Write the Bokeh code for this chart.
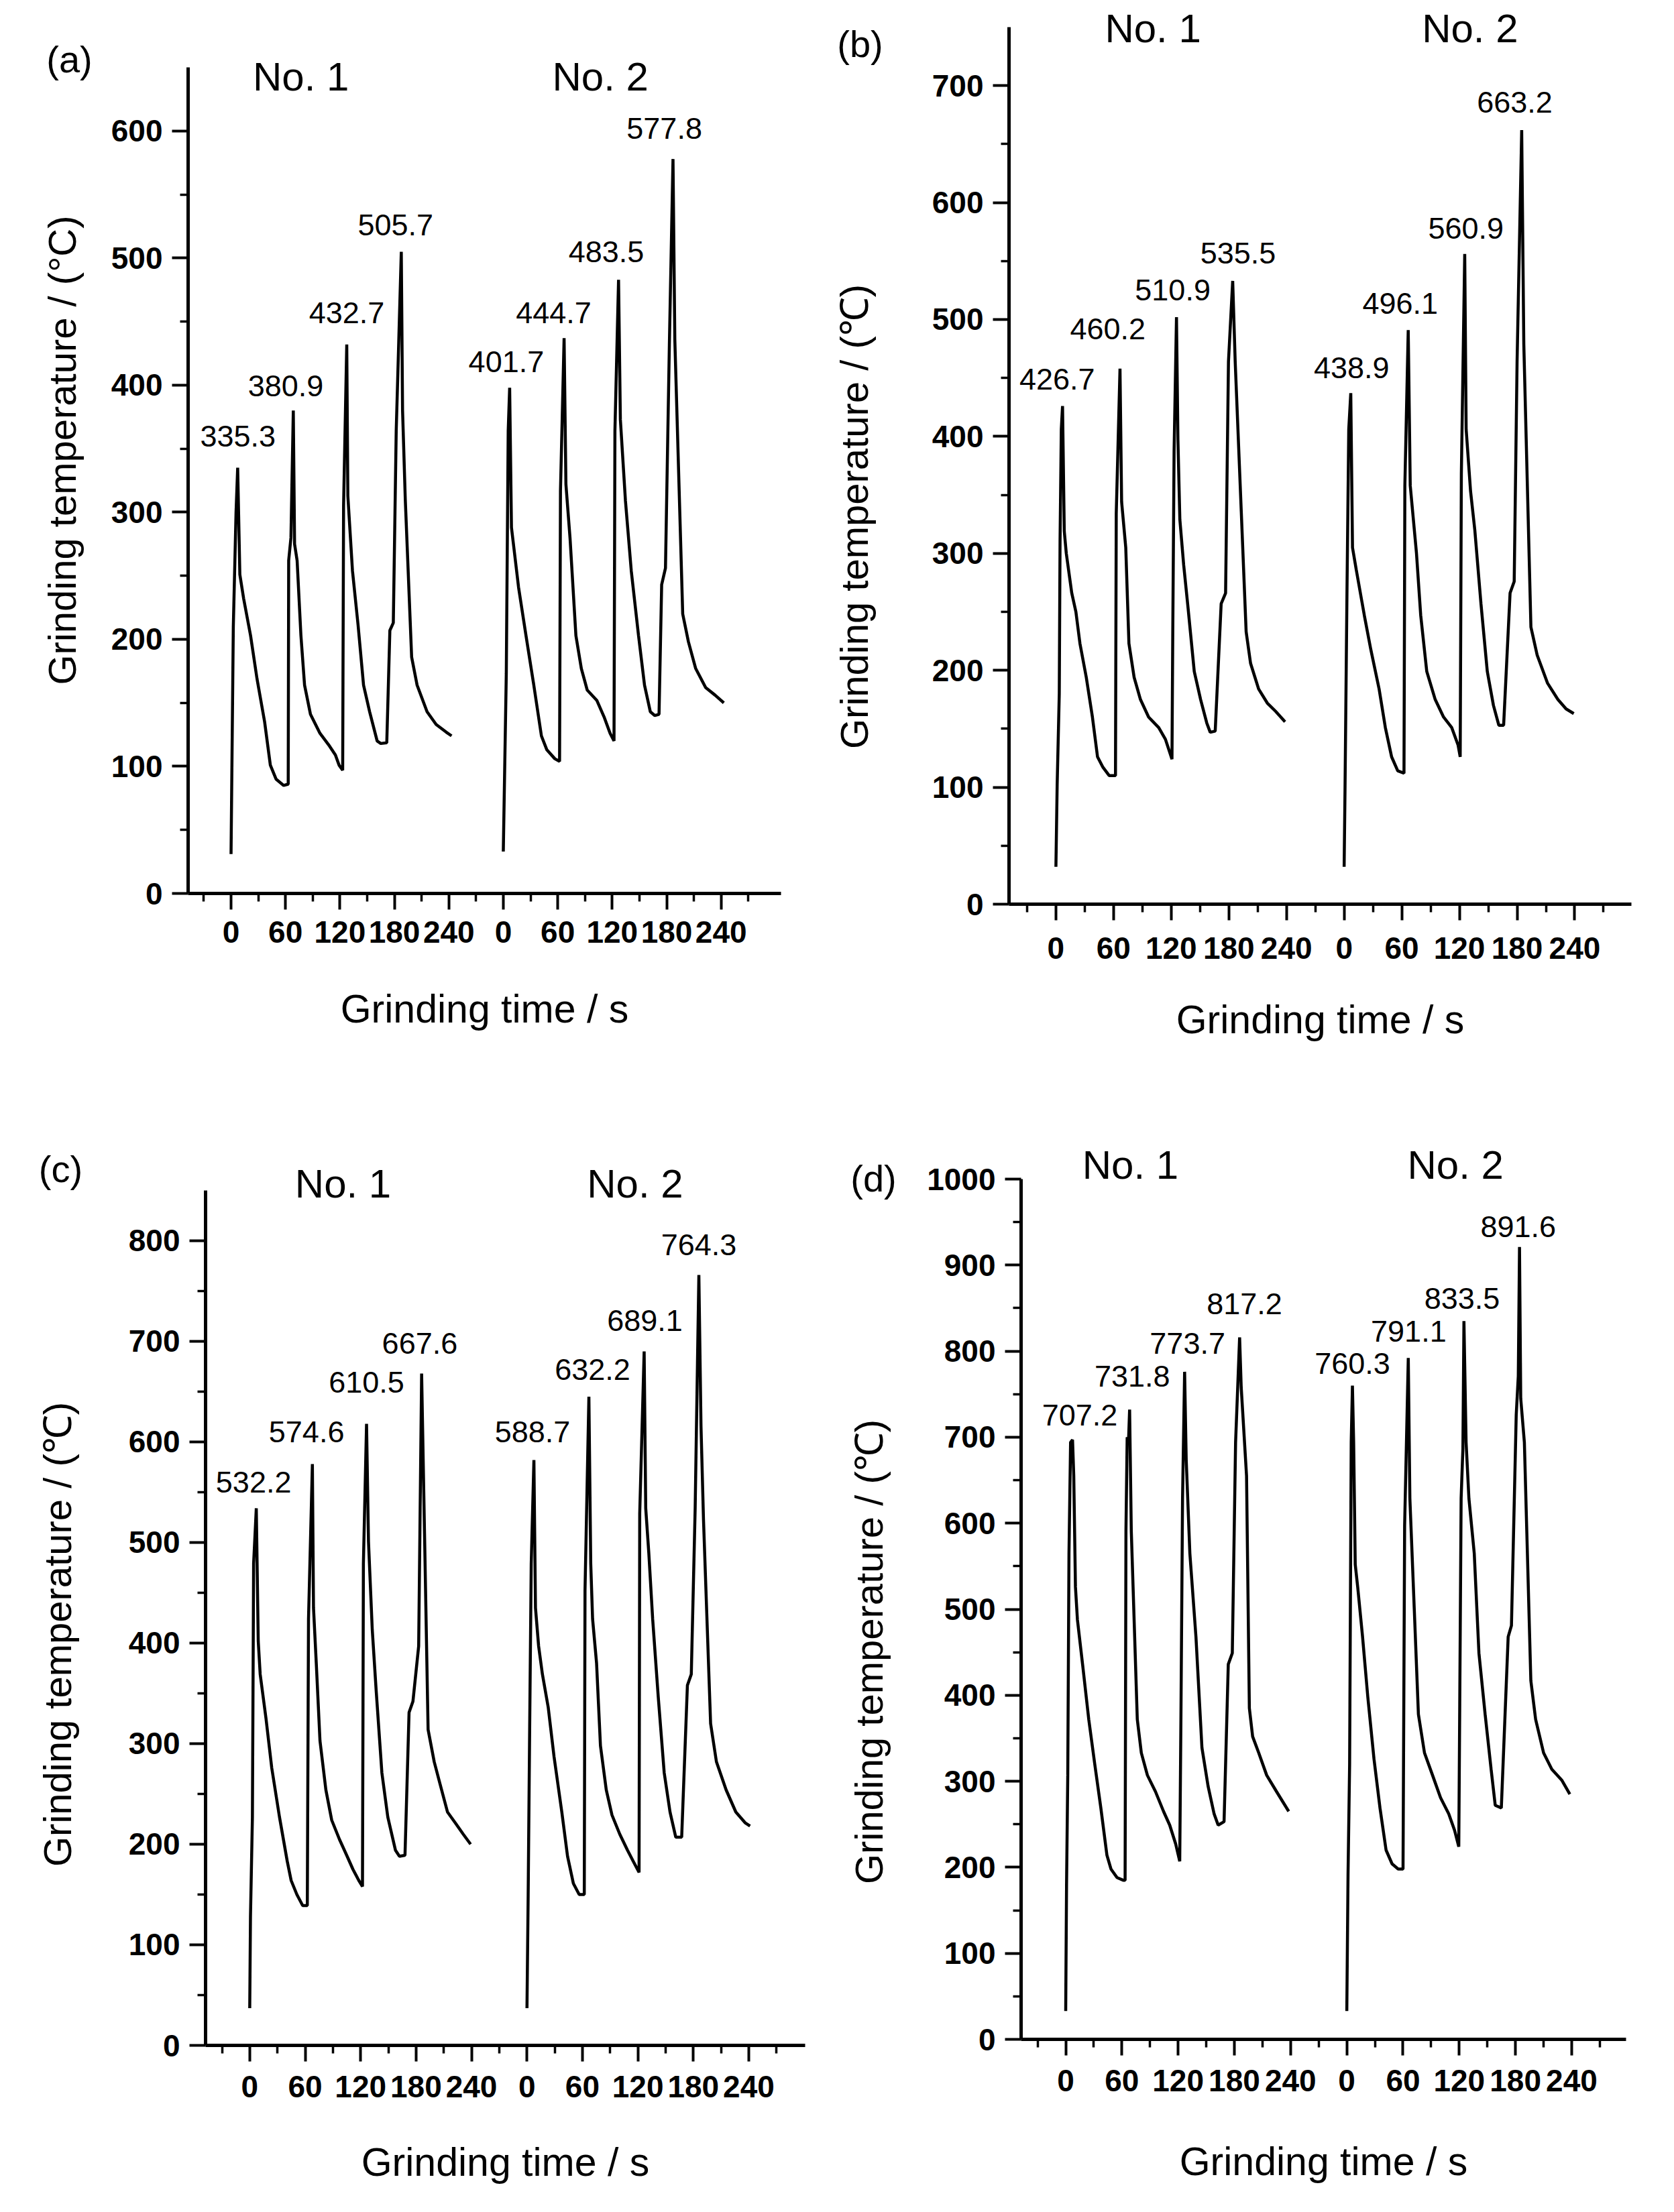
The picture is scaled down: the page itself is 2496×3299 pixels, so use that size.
import math
from bokeh.plotting import figure
from bokeh.models import FixedTicker, Label, Range1d, ColumnDataSource
from bokeh.layouts import column, row
from bokeh.embed import file_html
from bokeh.resources import INLINE
from bokeh.core.properties import value

FONT = "Liberation Sans"

# ---------------- data ----------------
time_tick_labels = ["0", "60", "120", "180", "240"]
no2_offset = 300  # No. 2 is drawn to the right of No. 1 on the same axis

# (a)
a_no1_t = [0, 2.5, 5.5, 7.3, 9.7, 13.9, 21.5, 28.6, 37, 43.3, 49.6, 58, 63, 63.5, 66, 68.6, 70, 72.8, 77, 81, 87.5, 98,
           108.5, 115, 119, 123, 124, 127.5, 128.7, 133.8, 140, 146, 152.7, 161, 165, 171.6, 175, 178.8, 182, 187.6,
           189, 192, 199, 205, 216, 226, 237, 243]
a_no1_v = [31, 210, 300, 335, 251, 232, 203, 169, 135, 101, 90, 85, 86, 262, 280, 380, 275, 262, 203, 164, 141, 126,
           116, 109, 101, 97, 305, 432, 313, 254, 211, 164, 143, 120, 118, 118.6, 207, 213, 364, 505,
           380, 310, 186, 164, 143, 133, 127, 124]
a_no2_t = [0, 3.3, 5.4, 7, 9, 16.8, 25, 33.6, 42, 48, 56.8, 62, 63, 67, 69, 73.6, 80, 86, 92.5, 103, 111, 117.7, 122,
           123, 127, 129, 134.6, 141, 149, 155.6, 162, 167, 171.6, 174.5, 178.7, 183, 187, 189, 197.7, 204, 212, 223,
           233.5, 243]
a_no2_v = [33, 173, 364, 398, 288, 241, 203, 164, 124, 113, 106, 104, 317, 437, 322, 279, 203, 177, 160, 152, 139, 126,
           120, 364, 483, 373, 309, 254, 203, 164, 143, 140, 141, 243, 256, 432, 578, 436, 220, 198, 177, 162, 156, 150]
a_peaks_no1 = [335.3, 380.9, 432.7, 505.7]
a_peaks_no2 = [401.7, 444.7, 483.5, 577.8]

# (b)
b_no1_t = [0, 1.3, 3.5, 4.3, 5.6, 6.9, 8.7, 10.8, 16.5, 20.8, 25, 31.6, 38, 43.3, 49, 55.4, 62, 62.8, 66.7, 68.4, 72.7,
           76, 81.4, 88, 96.5, 107, 114, 118, 120.8, 121.6, 123, 125.5, 127, 129, 133, 137.7, 144, 150.6, 157, 160.6,
           165.8, 172, 176.6, 179.6, 184, 186.6, 198, 202.6, 211, 220, 228.6, 238.5]
b_no1_v = [32, 102, 180, 310, 406, 426, 319, 300, 266, 250, 223, 194, 160, 126, 117, 110, 110, 334, 458, 344, 305,
           223, 194, 175, 160, 151, 141, 131, 124, 228, 387, 502, 397, 329, 290, 252, 199, 175, 155, 147,
           148, 257, 266, 464, 533, 464, 233, 206, 184, 172, 165, 156]
b_no2_t = [0, 0.9, 3, 4.8, 6.9, 8.7, 12.6, 21, 27.7, 36.4, 42.9, 49.4, 55.8, 62.3, 63.2, 66.7, 68.8, 75.3, 79.7, 86,
           94.8, 103.5, 112, 118.6, 120.8, 122, 125.5, 127, 131.6, 136, 142.4, 149, 155.4, 161, 166, 172.7, 177, 180,
           184.8, 187, 194.4, 200.9, 211.7, 222.5, 231, 239]
b_no2_v = [32, 97, 271, 406, 437, 305, 286, 247, 218, 184, 151, 126, 114, 112, 358, 491, 358, 300, 247, 199,
           175, 160, 151, 136, 126, 368, 556, 406, 353, 320, 257, 199, 170, 153, 153, 266, 276, 464,
           662, 479, 237, 213, 189, 175, 167, 163]
b_peaks_no1 = [426.7, 460.2, 510.9, 535.5]
b_peaks_no2 = [438.9, 496.1, 560.9, 663.2]

# (c)
c_no1_t = [0, 0.8, 2.9, 4.2, 7.1, 9.2, 11.3, 17.6, 23.8, 32.2, 40.6, 44.8, 51, 57.3, 62.3, 63.6, 67.8, 69, 72, 76,
           82.4, 88.7, 97, 105.4, 111.7, 118, 122, 123, 126.4, 128.5, 132.6, 136.8, 143, 149.4, 157.7, 162, 168,
           172.4, 176.6, 182.8, 186, 193, 199.6, 205.9, 214, 222.6, 231, 239]
c_no1_v = [37, 128, 227, 479, 534, 402, 369, 325, 276, 227, 183, 164, 150, 139, 139, 424, 578, 435, 380, 303,
           254, 224, 205, 188, 175, 164, 158, 479, 618, 501, 413, 353, 271, 227, 194, 188, 189,
           331, 342, 397, 668, 314, 282, 260, 232, 221, 210, 200]
c_no2_t = [0, 1.3, 2.9, 4.6, 7.5, 9.2, 12.6, 16.7, 23, 29.3, 37.7, 43.9, 50.2, 56.5, 62, 62.8, 67, 69, 71, 75.3,
           79.5, 85.8, 92, 100.4, 108.8, 115, 121.3, 122, 126.8, 128.5, 131.8, 136, 142, 148.5, 154.8, 161, 167.4,
           173.6, 177.8, 182, 186, 188.3, 191, 198.7, 205, 215.5, 226, 236.4, 241.4]
c_no2_v = [37, 150, 314, 479, 582, 435, 397, 369, 336, 287, 232, 188, 161, 150, 150, 452, 645, 479, 424, 380,
           298, 254, 229, 210, 194, 183, 172, 529, 690, 534, 490, 424, 347, 271, 232, 207, 207,
           358, 369, 534, 766, 616, 523, 320, 282, 254, 232, 221, 218]
c_peaks_no1 = [532.2, 574.6, 610.5, 667.6]
c_peaks_no2 = [588.7, 632.2, 689.1, 764.3]

# (d)
d_no1_t = [0, 0.9, 2.2, 3.5, 5.2, 7.3, 8.6, 10.4, 12.5, 18, 24.6, 31, 37.5, 44, 48.3, 54.8, 61.3, 63.4, 64.3, 65.6,
           67, 68.2, 70, 76.4, 80.7, 87.2, 95.8, 104.4, 111, 117.4, 121.7, 123, 124.7, 126.9, 128.6, 132.5, 139,
           145.4, 152, 158.4, 162.7, 169, 173.5, 177.8, 181.3, 185.6, 187.3, 193, 196, 199.5, 206, 214.5, 225, 238]
d_no1_v = [33, 179, 307, 565, 694, 697, 655, 526, 488, 436, 372, 320, 269, 214, 198, 188, 185, 185, 591, 700,
           694, 732, 591, 372, 333, 307, 288, 265, 249, 227, 207, 378, 629, 776, 674, 565, 468,
           339, 294, 262, 249, 253, 436, 449, 694, 816, 758, 655, 385, 352, 333, 307, 288, 265]
d_no2_t = [0, 1.3, 3, 4.7, 6, 7.3, 9, 11.6, 16.8, 22.4, 29, 35.4, 41.9, 48.3, 54.8, 60, 61.7, 65.6, 67.3, 72, 76.4,
           82.9, 91.5, 100, 108.8, 115, 119.5, 122, 123.9, 125, 127.3, 130.3, 136, 141, 147.6, 154, 158.4, 164.9,
           172.2, 175.7, 180.8, 183, 184.3, 185.6, 189.5, 196.4, 201.5, 210, 218.8, 229.6, 238]
d_no2_v = [33, 191, 320, 694, 760, 694, 552, 526, 468, 398, 326, 269, 220, 204, 198, 198, 597, 792, 629, 500, 378,
           333, 307, 281, 262, 243, 224, 629, 687, 835, 694, 629, 565, 449, 378, 314, 272, 269,
           468, 481, 726, 771, 921, 745, 694, 417, 372, 333, 314, 301, 285]
d_peaks_no1 = [707.2, 731.8, 773.7, 817.2]
d_peaks_no2 = [760.3, 791.1, 833.5, 891.6]

# ---------------- layout (geometry and text positions) ----------------
FIG_H = 1640
TOP_BORDER = 10

panels = [
    dict(top=8, bottom=308, letter="(a)", ytitle="Grinding temperature / (°C)", ymax=650, yext=697.6,
         xr=(-47.3, 606), side_w=150, main_w=1090, lr=(130, 76), tick_standoff=17, xlab_standoff=63,
         series=[(a_no1_t, a_no1_v, 0), (a_no2_t, a_no2_v, no2_offset)],
         peaks=a_peaks_no1 + a_peaks_no2,
         peak_pos=[(7.6, 360), (60.2, 399.5), (127.5, 457), (181.3, 526),
                   (303.3, 418.6), (355.5, 457), (413.5, 505), (477.5, 602)],
         no_pos=[(77, 642.7), (407, 642.7)], letter_pos=(103, 96), ytitle_pos=(92, 679)),
    dict(top=8, bottom=292, letter="(b)", ytitle="Grinding temperature / (℃)", ymax=750, yext=767.2,
         xr=(-48.8, 599), side_w=129, main_w=1111, lr=(135, 48), tick_standoff=25, xlab_standoff=55,
         series=[(b_no1_t, b_no1_v, 0), (b_no2_t, b_no2_v, no2_offset)],
         peaks=b_peaks_no1 + b_peaks_no2,
         peak_pos=[(1.3, 449), (54, 492), (121.6, 525), (189.6, 557),
                   (307.8, 459), (358.4, 514), (426.8, 578), (477.5, 686)],
         no_pos=[(101, 748.9), (431, 748.9)], letter_pos=(42, 73), ytitle_pos=(33, 778)),
    dict(top=1648, bottom=230, letter="(c)", ytitle="Grinding temperature / (℃)", ymax=850, yext=933.3,
         xr=(-47.8, 601), side_w=170, main_w=1070, lr=(136, 40), tick_standoff=21, xlab_standoff=61,
         series=[(c_no1_t, c_no1_v, 0), (c_no2_t, c_no2_v, no2_offset)],
         peaks=c_peaks_no1 + c_peaks_no2,
         peak_pos=[(4.2, 560), (61.5, 610), (126.4, 659), (184, 698),
                   (306, 610), (371, 672), (427.6, 720.6), (486, 796)],
         no_pos=[(101, 856.7), (417, 856.7)], letter_pos=(90, 1751), ytitle_pos=(85, 2445)),
    dict(top=1648, bottom=239, letter="(d)", ytitle="Grinding temperature / (℃)", ymax=1000, yext=1084.2,
         xr=(-47.6, 598), side_w=124, main_w=1116, lr=(158, 56), tick_standoff=21, xlab_standoff=69,
         series=[(d_no1_t, d_no1_v, 0), (d_no2_t, d_no2_v, no2_offset)],
         peaks=d_peaks_no1 + d_peaks_no2,
         peak_pos=[(15, 726), (71, 771), (130, 809), (190.8, 855),
                   (306, 786), (366, 823), (423, 861), (483, 945)],
         no_pos=[(69, 1016.4), (416, 1016.4)], letter_pos=(62, 1765), ytitle_pos=(55, 2471)),
]

x_major = [i * 60 for i in range(5)] + [no2_offset + i * 60 for i in range(5)]
x_minor = [-30 + 60 * i for i in range(11)]
x_overrides = {}
for k, lab in enumerate(time_tick_labels):
    x_overrides[k * 60] = lab
    x_overrides[no2_offset + k * 60] = lab


def make_side(cfg):
    T, B, top = TOP_BORDER, cfg["bottom"], cfg["top"]
    w = cfg["side_w"]
    # data coordinates of this strip are page pixels (y grows downward)
    s = figure(width=w, height=FIG_H, x_range=Range1d(0, w),
               y_range=Range1d(top + FIG_H - B, top + T),
               x_axis_type=None, y_axis_type=None, output_backend="svg", toolbar_location=None,
               min_border_left=0, min_border_right=0, min_border_top=T, min_border_bottom=B)
    s.outline_line_color = None
    s.background_fill_color = "white"
    s.border_fill_color = "white"
    lx, ly = cfg["letter_pos"]
    s.add_layout(Label(x=lx, y=ly, text=cfg["letter"], text_align="center", text_baseline="middle",
                       text_font=FONT, text_font_size="56px", text_color="black"))
    tx, ty = cfg["ytitle_pos"]
    s.add_layout(Label(x=tx, y=ty, text=cfg["ytitle"], text_align="center", text_baseline="middle",
                       angle=math.pi / 2, text_font=FONT, text_font_size="58px", text_color="black"))
    return s


def make_main(cfg):
    T, B = TOP_BORDER, cfg["bottom"]
    L, R = cfg["lr"]
    p = figure(width=cfg["main_w"], height=FIG_H, x_range=Range1d(*cfg["xr"]),
               y_range=Range1d(0, cfg["yext"]),
               output_backend="svg", toolbar_location=None,
               min_border_left=L, min_border_right=R, min_border_top=T, min_border_bottom=B)
    p.outline_line_color = None
    p.grid.visible = False
    p.background_fill_color = "white"
    p.border_fill_color = "white"

    for t, v, off in cfg["series"]:
        p.line([x + off for x in t], v, line_color="black", line_width=4.5)

    xa = p.xaxis[0]
    xa.ticker = FixedTicker(ticks=x_major, minor_ticks=x_minor)
    xa.major_label_overrides = x_overrides
    xa.axis_label = "Grinding time / s"
    xa.axis_label_standoff = cfg["xlab_standoff"]
    xa.major_label_standoff = cfg["tick_standoff"]
    ya = p.yaxis[0]
    ya.ticker = FixedTicker(ticks=list(range(0, cfg["ymax"] + 1, 100)),
                            minor_ticks=list(range(50, cfg["ymax"], 100)))
    ya.bounds = (0, cfg["ymax"])
    ya.major_label_standoff = 14
    for ax in (xa, ya):
        ax.axis_line_width = 5
        ax.axis_line_color = "black"
        ax.major_tick_line_width = 4
        ax.minor_tick_line_width = 3.5
        ax.major_tick_line_color = "black"
        ax.minor_tick_line_color = "black"
        ax.major_tick_in = 0
        ax.minor_tick_in = 0
        ax.major_tick_out = 24
        ax.minor_tick_out = 12
        ax.major_label_text_font = FONT
        ax.major_label_text_font_style = "bold"
        ax.major_label_text_font_size = "46px"
        ax.major_label_text_color = "black"
        ax.axis_label_text_font = FONT
        ax.axis_label_text_font_style = "normal"
        ax.axis_label_text_font_size = "59px"
        ax.axis_label_text_color = "black"

    src = ColumnDataSource(dict(x=[q[0] for q in cfg["peak_pos"]], y=[q[1] for q in cfg["peak_pos"]],
                                txt=["%.1f" % pk for pk in cfg["peaks"]]))
    p.text(x="x", y="y", text="txt", source=src, text_align="center", text_baseline="middle",
           text_font=value(FONT), text_font_size="45px", text_color="black")

    for (x, y), name in zip(cfg["no_pos"], ["No. 1", "No. 2"]):
        p.add_layout(Label(x=x, y=y, text=name, text_align="center", text_baseline="middle",
                           text_font=FONT, text_font_size="60px", text_color="black"))
    return p


groups = [column(row(make_side(c), make_main(c))) for c in panels]
layout = column(row(groups[0], groups[1]), row(groups[2], groups[3]))
open("out.html", "w").write(file_html(layout, INLINE))
